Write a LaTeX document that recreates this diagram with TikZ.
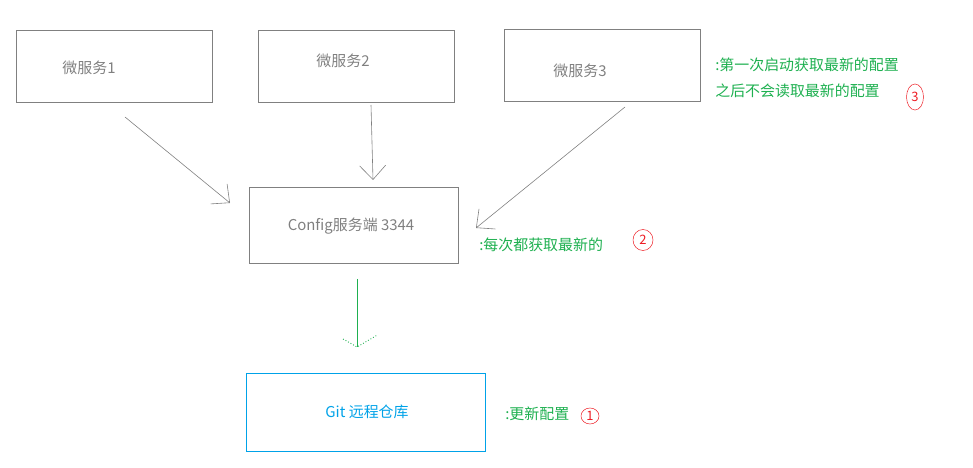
\documentclass[tikz,border=0pt]{standalone}
\usepackage{fontspec}
\setmainfont{Noto Sans CJK SC}
\usetikzlibrary{arrows.meta,positioning,shapes.geometric}
\definecolor{boxgray}{RGB}{128,128,128}
\definecolor{notegreen}{RGB}{30,176,80}
\definecolor{gitblue}{RGB}{0,162,232}
\definecolor{markred}{RGB}{237,28,36}

\begin{document}
\begin{tikzpicture}[x=1bp,y=-1bp,line width=.6pt,
    >={Straight Barb[length=14bp,width=26bp]},
    svcbox/.style={draw=boxgray,inner sep=0pt,minimum width=196bp,minimum height=72bp},
    svctext/.style={text=boxgray,font=\fontsize{15}{17}\selectfont},
    note/.style={anchor=west,inner sep=0pt,text=notegreen,font=\fontsize{15}{17}\selectfont},
    nummark/.style={ellipse,draw=markred,line width=.5pt,inner sep=0pt,text=markred,font=\fontsize{13}{15}\selectfont}]
      \useasboundingbox (0,0) rectangle (973,468);
      % microservices
      \node[svcbox] (ms1) at (114,66) {};
      \node[svctext] (ms1txt) at (89,68) {微服务1};
      \node[svcbox] (ms2) at (356,66) {};
      \node[svctext] (ms2txt) at (343,61) {微服务2};
      \node[svcbox] (ms3) at (602,65) {};
      \node[svctext] (ms3txt) at (580,71) {微服务3};
      % config server and git
      \node[svcbox,minimum width=209bp,minimum height=76bp] (cfg) at (353.5,225) {};
      \node[svctext] (cfgtxt) at (351,226) {Config服务端 3344};
      \node[draw=gitblue,inner sep=0pt,minimum width=239bp,minimum height=78bp] (git) at (365.5,412) {};
      \node[svctext,text=gitblue] (gittxt) at (367,412) {Git 远程仓库};
      % arrows
      \coordinate (a1s) at (125,117); \coordinate (a1e) at (230,203);
      \coordinate (a2s) at (371,105); \coordinate (a2e) at (373,180);
      \coordinate (a3s) at (625,107); \coordinate (a3e) at (476,228);
      \coordinate (a4s) at (357,279); \coordinate (a4e) at (357,347);
      \draw[->,boxgray] (a1s) -- (a1e);
      \draw[->,boxgray] (a2s) -- (a2e);
      \draw[->,boxgray] (a3s) -- (a3e);
      \draw[notegreen] (a4s) -- (a4e);
      \draw[notegreen,line width=.9pt,dotted] (343,339) -- (a4e) -- (376.5,335.5);
      % notes
      \node[note] (n3a) at (715,65) {:第一次启动获取最新的配置};
      \node[note] (n3b) at (715,91) {之后不会读取最新的配置};
      \node[note] (n2) at (479,245) {:每次都获取最新的};
      \node[note] (n1) at (505,414) {:更新配置};
      % circled numbers
      \node[nummark,minimum width=17bp,minimum height=26bp] (c3) at (915,97) {3};
      \node[nummark,minimum width=20bp,minimum height=21bp] (c2) at (643,240) {2};
      \node[nummark,minimum width=18bp,minimum height=16bp] (c1) at (590,416) {1};
    \end{tikzpicture}
\end{document}
